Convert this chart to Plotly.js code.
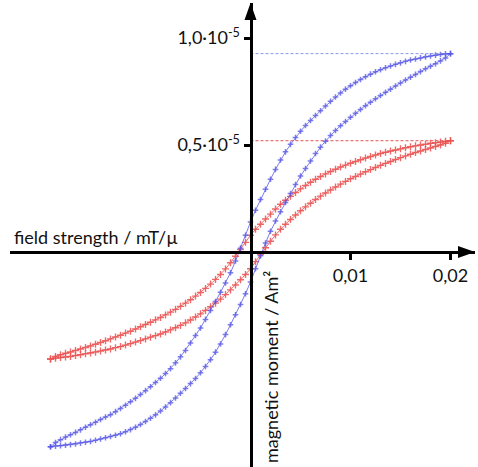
<!DOCTYPE html>
<html>
<head>
<meta charset="utf-8">
<script src="https://cdn.plot.ly/plotly-3.0.1.min.js"></script>
<style>html,body{margin:0;padding:0;background:#fff;}#chart{width:478px;height:467px;}</style>
</head>
<body>
<div id="chart"></div>
<script>
// field strength values (mT/µ), shared by all branches
const fieldX = [-0.02,-0.0195,-0.019,-0.0185,-0.018,-0.0175,-0.017,-0.0165,-0.016,-0.0155,-0.015,-0.0145,-0.014,-0.0135,-0.013,-0.0125,-0.012,-0.0115,-0.011,-0.0105,-0.01,-0.0095,-0.009,-0.0085,-0.008,-0.0075,-0.007,-0.0065,-0.006,-0.0055,-0.005,-0.0045,-0.004,-0.0035,-0.003,-0.0025,-0.002,-0.0015,-0.001,-0.0005,0,0.0005,0.001,0.0015,0.002,0.0025,0.003,0.0035,0.004,0.0045,0.005,0.0055,0.006,0.0065,0.007,0.0075,0.008,0.0085,0.009,0.0095,0.01,0.0105,0.011,0.0115,0.012,0.0125,0.013,0.0135,0.014,0.0145,0.015,0.0155,0.016,0.0165,0.017,0.0175,0.018,0.0185,0.019,0.0195,0.02];

// magnetic moment, units of 1e-5 Am²
const blueUpper = [-0.91,-0.89,-0.877,-0.865,-0.854,-0.843,-0.831,-0.819,-0.807,-0.796,-0.783,-0.771,-0.76,-0.746,-0.731,-0.716,-0.70,-0.684,-0.666,-0.648,-0.63,-0.61,-0.59,-0.568,-0.545,-0.518,-0.49,-0.46,-0.425,-0.39,-0.355,-0.315,-0.273,-0.231,-0.188,-0.145,-0.097,-0.042,0.018,0.078,0.14,0.195,0.245,0.293,0.34,0.386,0.43,0.468,0.503,0.535,0.564,0.591,0.615,0.638,0.66,0.682,0.704,0.724,0.743,0.761,0.777,0.792,0.806,0.819,0.831,0.842,0.852,0.861,0.869,0.877,0.884,0.891,0.897,0.902,0.907,0.912,0.916,0.92,0.923,0.926,0.927];
const blueLower = [-0.91,-0.907,-0.905,-0.903,-0.9,-0.897,-0.893,-0.889,-0.885,-0.88,-0.874,-0.868,-0.862,-0.856,-0.849,-0.84,-0.83,-0.819,-0.806,-0.792,-0.777,-0.761,-0.743,-0.724,-0.704,-0.682,-0.66,-0.638,-0.615,-0.591,-0.564,-0.535,-0.503,-0.468,-0.43,-0.386,-0.34,-0.293,-0.245,-0.195,-0.14,-0.078,-0.018,0.042,0.097,0.145,0.188,0.231,0.273,0.315,0.355,0.39,0.425,0.46,0.49,0.518,0.545,0.568,0.59,0.61,0.63,0.648,0.666,0.684,0.70,0.716,0.731,0.746,0.761,0.776,0.79,0.804,0.817,0.83,0.843,0.856,0.868,0.88,0.893,0.907,0.927];
const redUpper = [-0.50,-0.488,-0.48,-0.473,-0.467,-0.46,-0.453,-0.446,-0.439,-0.431,-0.423,-0.415,-0.406,-0.397,-0.389,-0.379,-0.37,-0.36,-0.349,-0.339,-0.328,-0.317,-0.306,-0.294,-0.281,-0.268,-0.254,-0.239,-0.223,-0.206,-0.189,-0.17,-0.15,-0.128,-0.105,-0.079,-0.05,-0.02,0.012,0.045,0.078,0.106,0.13,0.154,0.177,0.201,0.223,0.242,0.26,0.278,0.295,0.311,0.326,0.34,0.353,0.365,0.376,0.387,0.397,0.406,0.415,0.423,0.431,0.439,0.446,0.453,0.46,0.466,0.472,0.477,0.482,0.487,0.492,0.496,0.5,0.504,0.508,0.511,0.514,0.517,0.52];
const redLower = [-0.50,-0.496,-0.493,-0.491,-0.488,-0.484,-0.48,-0.476,-0.472,-0.468,-0.463,-0.458,-0.453,-0.447,-0.442,-0.435,-0.428,-0.421,-0.414,-0.406,-0.398,-0.391,-0.383,-0.374,-0.364,-0.354,-0.343,-0.331,-0.318,-0.304,-0.289,-0.273,-0.256,-0.239,-0.22,-0.199,-0.177,-0.154,-0.13,-0.105,-0.078,-0.045,-0.012,0.02,0.05,0.08,0.106,0.13,0.152,0.173,0.193,0.211,0.228,0.245,0.261,0.276,0.29,0.304,0.317,0.33,0.342,0.353,0.364,0.375,0.385,0.395,0.405,0.414,0.423,0.432,0.441,0.449,0.457,0.465,0.472,0.479,0.486,0.493,0.5,0.508,0.52];

const xTickVals = [0.01, 0.02];
const xTickText = ['0,01', '0,02'];
const yTickVals = [0.5, 1.0];
const yTickText = ['0,5·10<sup>-5</sup>', '1,0·10<sup>-5</sup>'];
const xTitle = 'field strength / mT/µ';
const yTitle = 'magnetic moment / Am²';

const blueMax = Math.max(...blueUpper);
const redMax = Math.max(...redUpper);

function loop(upper, lower) {
  const xs = fieldX.slice().reverse().concat(fieldX);
  const ys = upper.slice().reverse().concat(lower);
  return {xs, ys};
}
const bl = loop(blueUpper, blueLower);
const rl = loop(redUpper, redLower);

const FONT = 'Lato, "Open Sans", sans-serif';

const traces = [
  {x: [0, 0.02], y: [blueMax, blueMax], mode: 'lines', line: {color: '#8a98e8', width: 1, dash: '3px,2px'}, hoverinfo: 'skip'},
  {x: [0, 0.02], y: [redMax, redMax], mode: 'lines', line: {color: '#e05555', width: 1, dash: '3px,2px'}, hoverinfo: 'skip'},
  {x: rl.xs, y: rl.ys, mode: 'lines+markers', line: {color: 'rgba(235,80,80,0.85)', width: 1},
   marker: {symbol: 'cross-thin-open', size: 5, line: {width: 1.4, color: '#e02828'}}},
  {x: bl.xs, y: bl.ys, mode: 'lines+markers', line: {color: 'rgba(80,80,230,0.75)', width: 1},
   marker: {symbol: 'cross-thin-open', size: 4, line: {width: 1.5, color: '#3a3ad6'}}}
];

const layout = {
  width: 478, height: 467,
  margin: {l: 0, r: 0, t: 0, b: 0},
  paper_bgcolor: '#fff', plot_bgcolor: '#fff',
  showlegend: false,
  font: {family: FONT, size: 18, color: '#111'},
  xaxis: {
    domain: [10/478, 475/478], range: [-0.02405, 0.02245],
    anchor: 'free', position: 0.46038,
    showgrid: false, zeroline: false,
    showline: true, linecolor: '#000', linewidth: 3,
    ticks: 'outside', ticklen: 6, tickwidth: 3, tickcolor: '#000',
    tickmode: 'array', tickvals: xTickVals, ticktext: xTickText,
    tickfont: {family: FONT, size: 18, color: '#111'}
  },
  yaxis: {
    domain: [0, 1 - 3/467], range: [-1.0047, 1.1636],
    anchor: 'free', position: 0.52406,
    showgrid: false, zeroline: false,
    showline: true, linecolor: '#000', linewidth: 3,
    ticks: 'outside', ticklen: 6, tickwidth: 3, tickcolor: '#000',
    tickmode: 'array', tickvals: yTickVals, ticktext: yTickText,
    tickfont: {family: FONT, size: 18, color: '#111'}
  },
  shapes: [
    {type: 'path', xref: 'x', yref: 'y', xsizemode: 'pixel', ysizemode: 'pixel',
     xanchor: 0.02245, yanchor: 0, path: 'M 0 0 L -17 6 L -17 -6 Z',
     fillcolor: '#000', line: {width: 0}},
    {type: 'path', xref: 'x', yref: 'y', xsizemode: 'pixel', ysizemode: 'pixel',
     xanchor: 0, yanchor: 1.1636, path: 'M 0 0 L -6 -17 L 6 -17 Z',
     fillcolor: '#000', line: {width: 0}}
  ],
  annotations: [
    {xref: 'paper', yref: 'paper', x: 12/478, y: 1 - 237/467, xanchor: 'left', yanchor: 'middle',
     text: xTitle, showarrow: false, font: {family: FONT, size: 18, color: '#111'}},
    {xref: 'paper', yref: 'paper', x: 271/478, y: 1 - 367/467, xanchor: 'center', yanchor: 'middle',
     text: yTitle, textangle: -90, showarrow: false, font: {family: FONT, size: 18, color: '#111'}}
  ]
};

Plotly.newPlot('chart', traces, layout, {staticPlot: true, displayModeBar: false});
</script>
</body>
</html>
